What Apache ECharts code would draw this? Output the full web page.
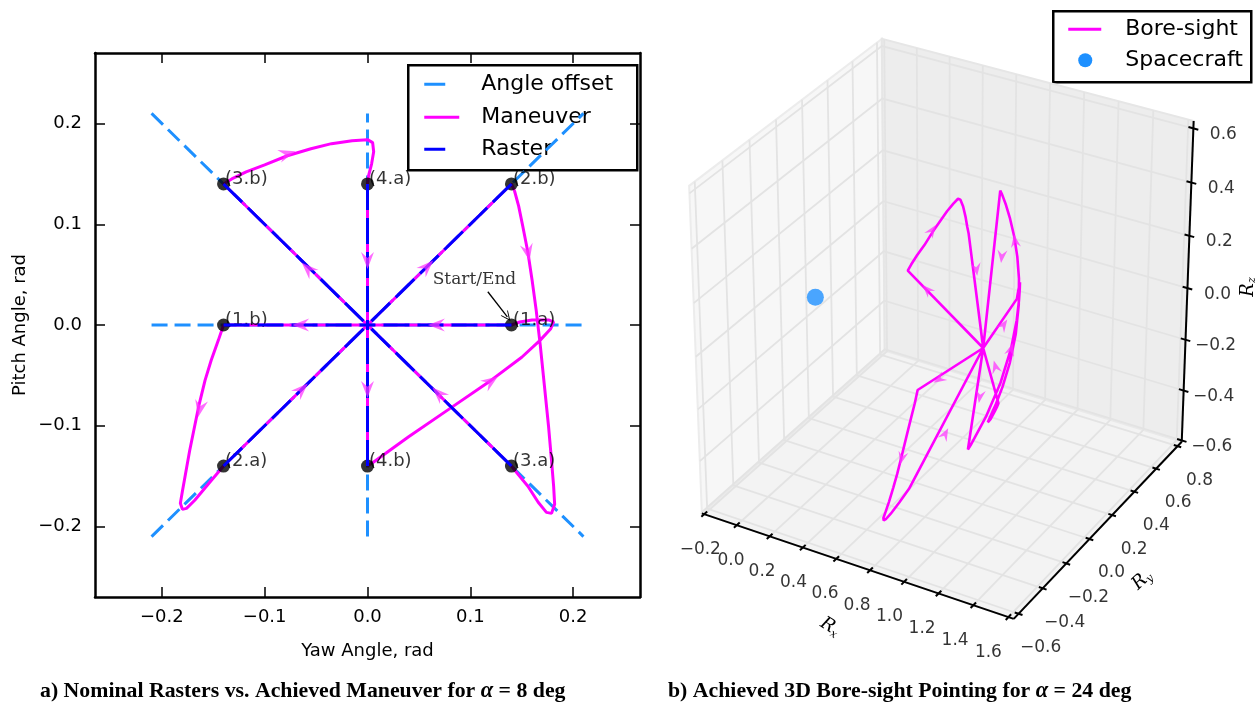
<!DOCTYPE html>
<html>
<head>
<meta charset="utf-8">
<title>Nominal rasters and bore-sight pointing</title>
<script src="https://cdn.jsdelivr.net/npm/echarts@6.0.0/dist/echarts.min.js"></script>
<style>
  html, body { margin: 0; padding: 0; background: #fff; }
  #chart { width: 1260px; height: 705px; }
</style>
</head>
<body>
<div id="chart"></div>
<script>
// ---------- panel a) nominal rasters vs achieved maneuver, alpha = 8 deg ----------
const rasterNames = ['(1.a)', '(1.b)', '(2.a)', '(2.b)', '(3.a)', '(3.b)', '(4.a)', '(4.b)'];
const rasterYaw   = [0.14, -0.14, -0.14, 0.14, 0.14, -0.14, 0.0, 0.0];
const rasterPitch = [0.0, 0.0, -0.14, 0.14, -0.14, 0.14, 0.14, -0.14];

// angle offset guides (end to end)
const offsetFromYaw   = [-0.21, 0.0, -0.21, -0.21];
const offsetFromPitch = [0.0, -0.21, -0.21, 0.21];
const offsetToYaw     = [0.21, 0.0, 0.21, 0.21];
const offsetToPitch   = [0.0, 0.21, 0.21, -0.21];

// achieved maneuver, starts and ends at (1.a)
const maneuverYaw = [0.14, 0, -0.14, -0.145, -0.152, -0.158, -0.164, -0.169, -0.173, -0.177, -0.18, -0.182,
  -0.18, -0.176, -0.168, -0.155, -0.14, 0, 0.14, 0.143, 0.147, 0.151, 0.156, 0.16, 0.164, 0.168, 0.172,
  0.176, 0.179, 0.181, 0.182, 0.179, 0.174, 0.166, 0.156, 0.147, 0.14, 0, -0.14, -0.132, -0.118, -0.1,
  -0.078, -0.055, -0.035, -0.015, 0, 0.005, 0.006, 0.004, 0.001, 0, 0, 0, 0.006, 0.04, 0.08, 0.12, 0.15,
  0.168, 0.178, 0.181, 0.176, 0.16, 0.148, 0.14];
const maneuverPitch = [0, 0, 0, -0.015, -0.035, -0.055, -0.08, -0.105, -0.125, -0.148, -0.165, -0.177,
  -0.183, -0.182, -0.174, -0.158, -0.14, 0, 0.14, 0.133, 0.118, 0.098, 0.072, 0.045, 0.015, -0.02, -0.06,
  -0.1, -0.135, -0.16, -0.178, -0.187, -0.186, -0.176, -0.16, -0.149, -0.14, 0, 0.14, 0.145, 0.152, 0.159,
  0.168, 0.175, 0.18, 0.183, 0.184, 0.181, 0.172, 0.16, 0.148, 0.14, 0, -0.14, -0.136, -0.111, -0.083,
  -0.055, -0.032, -0.015, -0.004, 0.003, 0.005, 0.005, 0.003, 0];

// where the direction arrows sit on the maneuver
const arrowYaw   = [0.067, -0.065, -0.163, -0.064, 0.058, 0.156, 0.069, -0.058, -0.078, 0, 0, 0.12];
const arrowPitch = [0, 0, -0.083, -0.064, 0.058, 0.072, -0.068, 0.056, 0.170, 0.064, -0.064, -0.056];

const yawTicks = [-0.2, -0.1, 0, 0.1, 0.2];
const pitchTicks = [-0.2, -0.1, 0, 0.1, 0.2];

// ---------- panel b) achieved 3D bore-sight pointing, alpha = 24 deg ----------
// pointing angles (rad); the plot shows the unit bore-sight vector
const boreYaw = [0.42, 0, -0.42, -0.435, -0.456, -0.474, -0.492, -0.507, -0.519, -0.531, -0.54, -0.546,
  -0.54, -0.528, -0.504, -0.465, -0.42, 0, 0.42, 0.429, 0.441, 0.453, 0.468, 0.48, 0.492, 0.504, 0.516,
  0.528, 0.537, 0.543, 0.546, 0.537, 0.522, 0.498, 0.468, 0.441, 0.42, 0, -0.42, -0.396, -0.354, -0.3,
  -0.234, -0.165, -0.105, -0.045, 0, 0.015, 0.018, 0.012, 0.003, 0, 0, 0, 0.018, 0.12, 0.24, 0.36, 0.45,
  0.504, 0.534, 0.543, 0.528, 0.48, 0.444, 0.42];
const borePitch = [0, 0, 0, -0.045, -0.105, -0.165, -0.24, -0.315, -0.375, -0.444, -0.495, -0.531,
  -0.549, -0.546, -0.522, -0.474, -0.42, 0, 0.42, 0.399, 0.354, 0.294, 0.216, 0.135, 0.045, -0.06, -0.18,
  -0.3, -0.405, -0.48, -0.534, -0.561, -0.558, -0.528, -0.48, -0.447, -0.42, 0, 0.42, 0.435, 0.456, 0.477,
  0.504, 0.525, 0.54, 0.549, 0.552, 0.543, 0.516, 0.48, 0.444, 0.42, 0, -0.42, -0.408, -0.333, -0.249,
  -0.165, -0.096, -0.045, -0.012, 0.009, 0.015, 0.015, 0.009, 0];
// arrows on the 3D path; sense +1 points along the path order, -1 against it (as drawn)
const boreArrowYaw   = [-0.234, -0.33, 0, 0.24, 0.47, 0.2, 0.13, 0, -0.3, -0.24, -0.49, 0.36];
const boreArrowPitch = [0.51, 0.33, 0.29, 0.24, 0.2, 0, -0.13, -0.19, 0, -0.24, -0.25, -0.168];
const boreArrowSense = [1, 1, 1, -1, -1, -1, 1, 1, 1, 1, 1, 1];
const spacecraft = [0, 0, 0];

const rxTicks = [-0.2, 0, 0.2, 0.4, 0.6, 0.8, 1.0, 1.2, 1.4, 1.6];
const ryTicks = [-0.6, -0.4, -0.2, 0, 0.2, 0.4, 0.6, 0.8];
const rzTicks = [-0.6, -0.4, -0.2, 0, 0.2, 0.4, 0.6];

// ---------- style ----------
const SANS = 'DejaVu Sans';
const SERIF = 'DejaVu Serif';
const MAGENTA = '#ff00ff';
const BLUE = '#0000ff';
const DODGER = '#1e90ff';
const ARROW = 'path://M5,0L10,13L5,8.5L0,13Z';
const ARROW_COLOR = 'rgba(255,50,255,0.9)';

const fmtTick = v => (v < -1e-9 ? '\u2212' : '') + Math.abs(v).toFixed(1);

// ---------- 3D view (elev 30, azim -60, like the matplotlib default) ----------
const VIEW = { elev: 30, azim: -60, dist: 10 };
const LIM = { x: [-0.215, 1.63], y: [-0.64, 0.84], z: [-0.605, 0.627] };
const SCREEN = { sx: 3600, sy: 3740, ox: 945.5, oy: 319 };

const el = VIEW.elev * Math.PI / 180;
const az = VIEW.azim * Math.PI / 180;
const nVec = [Math.cos(az) * Math.cos(el), Math.sin(az) * Math.cos(el), Math.sin(el)];
const uLen = Math.hypot(nVec[0], nVec[1]);
const uVec = [-nVec[1] / uLen, nVec[0] / uLen, 0];
const vVec = [
  nVec[1] * uVec[2] - nVec[2] * uVec[1],
  nVec[2] * uVec[0] - nVec[0] * uVec[2],
  nVec[0] * uVec[1] - nVec[1] * uVec[0]
];

function project(x, y, z) {
  const q = [
    (x - LIM.x[0]) / (LIM.x[1] - LIM.x[0]) - 0.5,
    (y - LIM.y[0]) / (LIM.y[1] - LIM.y[0]) - 0.5,
    (z - LIM.z[0]) / (LIM.z[1] - LIM.z[0]) - 0.5
  ];
  const dot = a => a[0] * q[0] + a[1] * q[1] + a[2] * q[2];
  const d = VIEW.dist - dot(nVec);
  return [SCREEN.ox + SCREEN.sx * dot(uVec) / d, SCREEN.oy - SCREEN.sy * dot(vVec) / d];
}

const toUnit = (yw, p) => [Math.cos(p) * Math.cos(yw), Math.cos(p) * Math.sin(yw), Math.sin(p)];

const [X0, X1] = LIM.x;
const [Y0, Y1] = LIM.y;
const [Z0, Z1] = LIM.z;

const paneCorners = [
  [[X0, Y0, Z0], [X0, Y1, Z0], [X0, Y1, Z1], [X0, Y0, Z1]],
  [[X0, Y1, Z0], [X1, Y1, Z0], [X1, Y1, Z1], [X0, Y1, Z1]],
  [[X0, Y0, Z0], [X1, Y0, Z0], [X1, Y1, Z0], [X0, Y1, Z0]]
];
const paneFill = ['#f7f7f7', '#ededed', '#f3f3f3'];
const paneEdge = ['#ececec', '#e6e6e6', '#e9e9e9'];

const gridPaths = [
  ...rxTicks.map(t => [[t, Y0, Z0], [t, Y1, Z0], [t, Y1, Z1]]),
  ...ryTicks.map(t => [[X1, t, Z0], [X0, t, Z0], [X0, t, Z1]]),
  ...rzTicks.map(t => [[X0, Y0, t], [X0, Y1, t], [X1, Y1, t]])
];
const axisPaths = [
  [[X0, Y0, Z0], [X1, Y0, Z0]],
  [[X1, Y0, Z0], [X1, Y1, Z0]],
  [[X1, Y1, Z0], [X1, Y1, Z1]]
];
const tickPaths = [
  ...rxTicks.map(t => [[t, Y0 - 0.022, Z0], [t, Y0 + 0.022, Z0]]),
  ...ryTicks.map(t => [[X1 - 0.022, t, Z0], [X1 + 0.022, t, Z0]]),
  ...rzTicks.map(t => [[X1 - 0.028, Y1, t], [X1 + 0.028, Y1, t]])
];

// tick label placement next to each projected tick
const rxSpan = rxTicks[rxTicks.length - 1] - rxTicks[0];
const tickLabelData = [
  ...rxTicks.map(t => {
    const p = project(t, Y0, Z0);
    const f = (t - rxTicks[0]) / rxSpan;
    return [p[0] - 4 - 16 * f, p[1] + 35, fmtTick(t)];
  }),
  ...ryTicks.map(t => { const p = project(X1, t, Z0); return [p[0] + 22, p[1] + 34, fmtTick(t)]; }),
  ...rzTicks.map(t => { const p = project(X1, Y1, t); return [p[0] + 30, p[1] + 6, fmtTick(t)]; })
];

const borePx = boreYaw.map((yw, i) => project(...toUnit(yw, borePitch[i])));
const boreArrowPx = boreArrowYaw.map((yw, i) => project(...toUnit(yw, boreArrowPitch[i])));

// arrow heading taken from the nearest path segment (pixel space)
function headingAt(pt, path, sense) {
  let best = Infinity;
  let ang = 0;
  for (let i = 0; i < path.length - 1; i++) {
    const a = path[i];
    const b = path[i + 1];
    const dx = b[0] - a[0];
    const dy = b[1] - a[1];
    const len2 = dx * dx + dy * dy;
    if (!len2) continue;
    let t = ((pt[0] - a[0]) * dx + (pt[1] - a[1]) * dy) / len2;
    t = Math.max(0, Math.min(1, t));
    const ex = a[0] + t * dx - pt[0];
    const ey = a[1] + t * dy - pt[1];
    const d = ex * ex + ey * ey;
    if (d < best) {
      best = d;
      ang = Math.atan2(-dy, dx) * 180 / Math.PI;
    }
  }
  return ang - 90 + (sense < 0 ? 180 : 0);
}

const boreArrowRot = boreArrowPx.map((p, i) => headingAt(p, borePx, boreArrowSense[i]));

// ---------- option ----------
function buildOption(leftArrowRot) {
  const leftAxisBase = {
    gridIndex: 0,
    type: 'value',
    axisLine: { show: true, onZero: false, lineStyle: { color: '#000', width: 2.5 } },
    axisTick: { show: true, inside: true, length: 10, lineStyle: { color: '#000', width: 1.5 } },
    splitLine: { show: false }
  };

  const series = [];

  offsetFromYaw.forEach((_, i) => {
    series.push({
      type: 'line', xAxisIndex: 0, yAxisIndex: 0, z: 2, silent: true, symbol: 'none',
      data: [[offsetFromYaw[i], offsetFromPitch[i]], [offsetToYaw[i], offsetToPitch[i]]],
      lineStyle: { color: DODGER, width: 3, type: [16, 7] }
    });
  });

  series.push({
    type: 'line', name: 'Maneuver', xAxisIndex: 0, yAxisIndex: 0, z: 3, silent: true,
    symbol: 'none',
    data: maneuverYaw.map((x, i) => [x, maneuverPitch[i]]),
    lineStyle: { color: MAGENTA, width: 3 }
  });

  series.push({
    type: 'scatter', xAxisIndex: 0, yAxisIndex: 0, z: 4, silent: true,
    symbolSize: 13,
    itemStyle: { color: '#000' },
    data: rasterYaw.map((x, i) => [x, rasterPitch[i], rasterNames[i]]),
    label: {
      show: true, position: 'right', offset: [-10, -5],
      formatter: p => p.value[2],
      color: '#000', fontFamily: SANS, fontSize: 18
    }
  });

  rasterYaw.forEach((_, i) => {
    series.push({
      type: 'line', xAxisIndex: 0, yAxisIndex: 0, z: 5, silent: true, symbol: 'none',
      data: [[rasterYaw[i], rasterPitch[i]], [0, 0]],
      lineStyle: { color: BLUE, width: 3, type: [26, 8] }
    });
  });

  if (leftArrowRot) {
    series.push({
      type: 'scatter', xAxisIndex: 0, yAxisIndex: 0, z: 6, silent: true,
      symbol: ARROW, symbolSize: [13, 17],
      itemStyle: { color: ARROW_COLOR },
      data: arrowYaw.map((x, i) => ({ value: [x, arrowPitch[i]], symbolRotate: leftArrowRot[i] }))
    });
  }

  // Start/End note
  series.push({
    type: 'scatter', xAxisIndex: 0, yAxisIndex: 0, z: 7, silent: true,
    symbolSize: 0,
    data: [[0.104, 0.045]],
    label: {
      show: true, position: 'inside', formatter: 'Start/End',
      color: '#000', fontFamily: SERIF, fontSize: 17
    },
    markLine: {
      silent: true, animation: false,
      symbol: ['none', 'path://M5,0L10,10L9,10L5,2.5L1,10L0,10Z'], symbolSize: [9, 10],
      lineStyle: { color: '#000', width: 1.3, type: 'solid' },
      label: { show: false },
      data: [[{ coord: [0.117, 0.033] }, { coord: [0.136, 0.008] }]]
    }
  });

  // ---- 3D panel ----
  series.push({
    type: 'custom', xAxisIndex: 2, yAxisIndex: 2, z: 1, silent: true, clip: false,
    data: paneCorners.map((_, i) => [700 + i, 100]),
    renderItem: (params, api) => {
      const i = params.dataIndex;
      return {
        type: 'polygon',
        shape: { points: paneCorners[i].map(c => api.coord(project(...c))) },
        style: { fill: paneFill[i], stroke: paneEdge[i], lineWidth: 2 }
      };
    }
  });

  series.push({
    type: 'lines', coordinateSystem: 'cartesian2d', xAxisIndex: 2, yAxisIndex: 2,
    polyline: true, z: 2, silent: true,
    lineStyle: { color: '#e3e3e3', width: 1.8, opacity: 1 },
    data: gridPaths.map(p => ({ coords: p.map(c => project(...c)) }))
  });

  series.push({
    type: 'lines', coordinateSystem: 'cartesian2d', xAxisIndex: 2, yAxisIndex: 2,
    polyline: true, z: 3, silent: true,
    lineStyle: { color: '#000', width: 2, opacity: 1 },
    data: axisPaths.concat(tickPaths).map(p => ({ coords: p.map(c => project(...c)) }))
  });

  series.push({
    type: 'scatter', xAxisIndex: 2, yAxisIndex: 2, z: 3, silent: true,
    symbolSize: 0,
    data: tickLabelData,
    label: {
      show: true, position: 'inside', formatter: p => p.value[2],
      color: '#000', fontFamily: SANS, fontSize: 17
    }
  });

  series.push({
    type: 'scatter', xAxisIndex: 2, yAxisIndex: 2, z: 4, silent: true,
    symbolSize: 17, itemStyle: { color: DODGER },
    data: [project(...spacecraft)]
  });

  series.push({
    type: 'line', xAxisIndex: 2, yAxisIndex: 2, z: 5, silent: true, symbol: 'none',
    data: borePx,
    lineStyle: { color: MAGENTA, width: 2.6 }
  });

  series.push({
    type: 'scatter', xAxisIndex: 2, yAxisIndex: 2, z: 6, silent: true,
    symbol: ARROW, symbolSize: [10, 13],
    itemStyle: { color: ARROW_COLOR },
    data: boreArrowPx.map((p, i) => ({ value: p, symbolRotate: boreArrowRot[i] }))
  });

  const legendText = (txt, x, y) => ({
    type: 'text', x, y,
    style: {
      text: txt, fill: '#000', fontFamily: SANS, fontSize: 22,
      textAlign: 'left', textVerticalAlign: 'middle', align: 'left', verticalAlign: 'middle'
    }
  });

  const captionRich = {
    b: { fontFamily: 'Liberation Serif', fontWeight: 'bold', fontSize: 21.8, color: '#000' },
    a: { fontFamily: 'Liberation Serif', fontWeight: 'bold', fontStyle: 'italic', fontSize: 22.5, color: '#000' }
  };
  const axisNameRich = {
    r: { fontFamily: SERIF, fontStyle: 'italic', fontSize: 18, color: '#000' },
    s: { fontFamily: SERIF, fontStyle: 'italic', fontSize: 11, color: '#000', padding: [9, 0, 0, 0] }
  };
  const axisName = (txt, x, y, rotation) => ({
    type: 'text', x, y, rotation,
    style: {
      text: txt, rich: axisNameRich,
      textAlign: 'center', textVerticalAlign: 'middle', align: 'center', verticalAlign: 'middle'
    }
  });

  return {
    animation: false,
    backgroundColor: '#fff',
    textStyle: { fontFamily: SANS },
    grid: [
      { left: 95, top: 53, right: 620, bottom: 108, containLabel: false, outerBoundsMode: 'none' },
      { left: 660, top: 0, right: 0, bottom: 0, containLabel: false, outerBoundsMode: 'none' }
    ],
    xAxis: [
      Object.assign({}, leftAxisBase, {
        position: 'bottom', min: -0.265, max: 0.265,
        axisTick: Object.assign({}, leftAxisBase.axisTick, { customValues: yawTicks }),
        axisLabel: {
          customValues: yawTicks, formatter: fmtTick, margin: 11,
          color: '#000', fontFamily: SANS, fontSize: 18
        },
        name: 'Yaw Angle, rad', nameLocation: 'middle', nameGap: 45,
        nameTextStyle: { color: '#000', fontFamily: SANS, fontSize: 18 }
      }),
      Object.assign({}, leftAxisBase, {
        position: 'top', min: -0.265, max: 0.265,
        axisTick: Object.assign({}, leftAxisBase.axisTick, { customValues: yawTicks }),
        axisLabel: { show: false }
      }),
      { gridIndex: 1, type: 'value', min: 660, max: 1260, show: false }
    ],
    yAxis: [
      Object.assign({}, leftAxisBase, {
        position: 'left', min: -0.27, max: 0.27,
        axisTick: Object.assign({}, leftAxisBase.axisTick, { customValues: pitchTicks }),
        axisLabel: {
          customValues: pitchTicks, formatter: fmtTick, margin: 13,
          color: '#000', fontFamily: SANS, fontSize: 18
        },
        name: 'Pitch Angle, rad', nameLocation: 'middle', nameGap: 66, nameRotate: 90,
        nameTextStyle: { color: '#000', fontFamily: SANS, fontSize: 18 }
      }),
      Object.assign({}, leftAxisBase, {
        position: 'right', min: -0.27, max: 0.27,
        axisTick: Object.assign({}, leftAxisBase.axisTick, { customValues: pitchTicks }),
        axisLabel: { show: false }
      }),
      { gridIndex: 1, type: 'value', min: 0, max: 705, inverse: true, show: false }
    ],
    series,
    graphic: [
      // legend of panel a
      {
        type: 'group', left: 407, top: 64, z: 100,
        children: [
          { type: 'rect', shape: { x: 0, y: 0, width: 229, height: 105 },
            style: { fill: '#fff', stroke: '#000', lineWidth: 2.5 } },
          { type: 'line', shape: { x1: 16, y1: 19, x2: 37, y2: 19 }, style: { stroke: DODGER, lineWidth: 3 } },
          { type: 'line', shape: { x1: 16, y1: 52, x2: 51, y2: 52 }, style: { stroke: MAGENTA, lineWidth: 3 } },
          { type: 'line', shape: { x1: 16, y1: 84, x2: 37, y2: 84 }, style: { stroke: BLUE, lineWidth: 3 } },
          legendText('Angle offset', 73, 19),
          legendText('Maneuver', 73, 52),
          legendText('Raster', 73, 84)
        ]
      },
      // legend of panel b
      {
        type: 'group', left: 1052, top: 10, z: 100,
        children: [
          { type: 'rect', shape: { x: 0, y: 0, width: 198, height: 71 },
            style: { fill: '#fff', stroke: '#000', lineWidth: 2.5 } },
          { type: 'line', shape: { x1: 15, y1: 18, x2: 48, y2: 18 }, style: { stroke: MAGENTA, lineWidth: 3 } },
          { type: 'circle', shape: { cx: 32, cy: 49, r: 7 }, style: { fill: DODGER } },
          legendText('Bore-sight', 72, 18),
          legendText('Spacecraft', 72, 49)
        ]
      },
      axisName('{r|R}{s|x}', 830, 627, -0.55),
      axisName('{r|R}{s|y}', 1142, 580, 0.75),
      axisName('{r|R}{s|z}', 1248, 287, Math.PI / 2),
      {
        type: 'text', x: 40, y: 691,
        style: {
          text: '{b|a) Nominal Rasters vs. Achieved Maneuver for }{a|\u03b1}{b| = 8 deg}',
          rich: captionRich, textVerticalAlign: 'middle', verticalAlign: 'middle'
        }
      },
      {
        type: 'text', x: 668, y: 691,
        style: {
          text: '{b|b) Achieved 3D Bore-sight Pointing for }{a|\u03b1}{b| = 24 deg}',
          rich: captionRich, textVerticalAlign: 'middle', verticalAlign: 'middle'
        }
      }
    ]
  };
}

const chart = echarts.init(document.getElementById('chart'), null, { renderer: 'canvas' });
chart.setOption(buildOption(null));

// headings of the panel a arrows, measured in pixels along the maneuver
const toPx = p => chart.convertToPixel({ gridIndex: 0 }, p);
const maneuverPx = maneuverYaw.map((x, i) => toPx([x, maneuverPitch[i]]));
const leftArrowRot = arrowYaw.map((x, i) => headingAt(toPx([x, arrowPitch[i]]), maneuverPx, 1));
chart.setOption(buildOption(leftArrowRot), true);
</script>
</body>
</html>
